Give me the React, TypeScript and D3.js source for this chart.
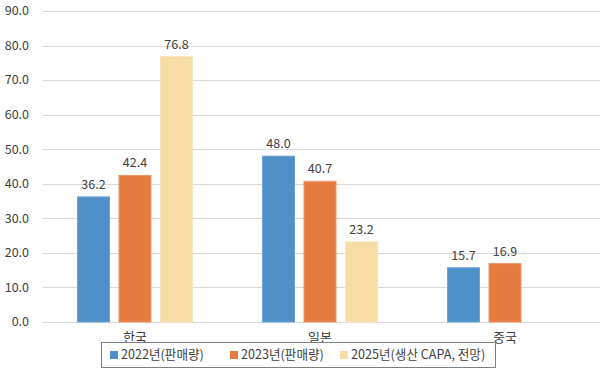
import React from 'react';
import * as d3 from 'd3';

const categories = ['한국', '일본', '중국'];
const seriesNames = ['2022년(판매량)', '2023년(판매량)', '2025년(생산 CAPA, 전망)'];
const values2022 = [36.2, 48.0, 15.7];
const values2023 = [42.4, 40.7, 16.9];
const values2025 = [76.8, 23.2, null];
const yTicks = [0, 10, 20, 30, 40, 50, 60, 70, 80, 90];

const colors = ['#4f8fca', '#e67a40', '#f7dca5'];
const strokes = ['#6ea5d6', '#ee9463', '#f9e5bd'];
const font = "'Noto Sans CJK KR', 'Noto Sans', sans-serif";

const W = 600;
const H = 373;
const plot = { left: 42.5, right: 597.5, top: 11, bottom: 322 };

const App = () => {
    const seriesValues = [values2022, values2023, values2025];

    const y = d3.scaleLinear().domain([0, 90]).range([plot.bottom, plot.top]);
    const x0 = d3.scaleBand().domain(categories).range([plot.left, plot.right]);
    const x1 = d3.scaleBand().domain(seriesNames).range([-57.5, 57.5]).paddingInner(0.23);

    // legend slots
    const legendX = [110, 230, 340];

    return (
        <svg width={W} height={H} style={{ position: 'absolute', left: 0, top: 0, background: '#fff' }}
            fontFamily={font}>
            {/* grid */}
            {yTicks.map(t => (
                <g key={t}>
                    <line x1={plot.left} x2={plot.right + 2.5} y1={Math.round(y(t)) + 0.5} y2={Math.round(y(t)) + 0.5}
                        stroke="#d9d9d9" strokeWidth={1} />
                    <text x={29} y={y(t)} dy="0.35em" textAnchor="end" fontSize={12.5} fill="#404040">
                        {d3.format('.1f')(t)}
                    </text>
                </g>
            ))}

            {/* bars */}
            {seriesValues.map((vals, si) => (
                <g key={si}>
                    {vals.map((v, ci) => {
                        if (v == null) return null;
                        const cx = x0(categories[ci])! + x0.bandwidth() / 2;
                        const bx = cx + x1(seriesNames[si])!;
                        return (
                            <g key={ci}>
                                <rect x={bx} y={y(v)} width={x1.bandwidth()} height={y(0) - y(v)}
                                    fill={colors[si]} stroke={strokes[si]} strokeWidth={1} />
                                <text x={bx + x1.bandwidth() / 2} y={y(v) - 8} textAnchor="middle"
                                    fontSize={12.5} fill="#404040">
                                    {d3.format('.1f')(v)}
                                </text>
                            </g>
                        );
                    })}
                </g>
            ))}

            {/* category labels */}
            {categories.map(c => (
                <text key={c} x={x0(c)! + x0.bandwidth() / 2} y={337} dy="0.35em" textAnchor="middle"
                    fontSize={13} fill="#404040">{c}</text>
            ))}

            {/* legend */}
            <rect x={101.5} y={342.5} width={394} height={25} fill="#fff" stroke="#7f7f7f" strokeWidth={1} />
            {seriesNames.map((s, i) => (
                <g key={s}>
                    <rect x={legendX[i]} y={351} width={8} height={8} fill={colors[i]} />
                    <text x={legendX[i] + 11} y={355} dy="0.35em" fontSize={12.6} fill="#404040">{s}</text>
                </g>
            ))}
        </svg>
    );
};

export default App;
